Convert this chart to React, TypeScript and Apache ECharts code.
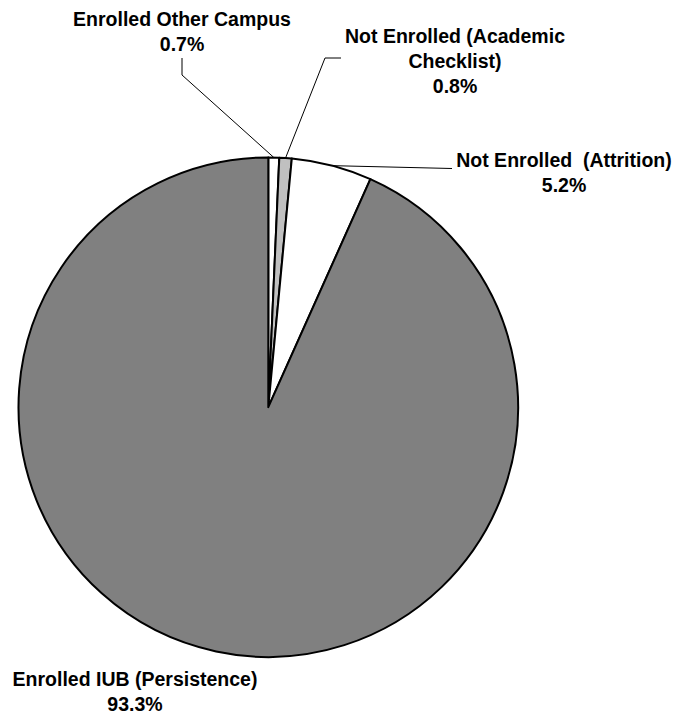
import React, { useEffect, useRef } from "react";
import * as echarts from "echarts";

// ---- data ----
const categories = [
  "Enrolled Other Campus",
  "Not Enrolled (Academic\nChecklist)",
  "Not Enrolled  (Attrition)",
  "Enrolled IUB (Persistence)",
];
const percents = [0.7, 0.8, 5.2, 93.3];
const sliceColors = ["#ffffff", "#c0c0c0", "#ffffff", "#808080"];

// ---- layout (label centers, leader-line bends) ----
const labelCenters: [number, number][] = [
  [182, 31],
  [455, 61],
  [564, 172],
  [135, 691],
];
const leaderBends: ([number, number][] | null)[] = [
  [
    [182, 75],
    [182, 58],
  ],
  [
    [325, 58],
    [341, 58],
  ],
  [[452, 168.5]],
  null,
];

export default function App() {
  const ref = useRef<HTMLDivElement>(null);
  useEffect(() => {
    if (!ref.current) return;
    const chart = echarts.init(ref.current, null, { renderer: "svg" });
    const font = "'Liberation Sans', Arial, Helvetica, sans-serif";
    chart.setOption({
      animation: false,
      backgroundColor: "#ffffff",
      series: [
        {
          type: "pie",
          center: [268.3, 407.2],
          radius: 249.8,
          startAngle: 90,
          clockwise: true,
          avoidLabelOverlap: false,
          emphasis: { disabled: true },
          silent: true,
          itemStyle: { borderColor: "#000000", borderWidth: 2 },
          label: {
            show: true,
            position: "outside",
            color: "#000000",
            fontFamily: font,
            fontWeight: "bold",
            fontSize: 19.5,
            lineHeight: 25,
            align: "center",
            formatter: (p: any) => `${p.name}\n${percents[p.dataIndex].toFixed(1)}%`,
          },
          labelLine: {
            show: true,
            lineStyle: { color: "#000000", width: 1 },
          },
          labelLayout: (params: any) => {
            const i = params.dataIndex;
            const res: any = {
              x: labelCenters[i][0],
              y: labelCenters[i][1],
              align: "center",
              verticalAlign: "middle",
            };
            const bends = leaderBends[i];
            if (bends && params.labelLinePoints) {
              res.labelLinePoints = [params.labelLinePoints[0], ...bends];
            }
            return res;
          },
          data: categories.map((name, i) => ({
            name,
            value: percents[i],
            itemStyle: { color: sliceColors[i] },
            labelLine: { show: leaderBends[i] != null },
          })),
        },
      ],
    });
    return () => chart.dispose();
  }, []);
  return (
    <div
      ref={ref}
      style={{ position: "fixed", left: 0, top: 0, width: 676, height: 717 }}
    />
  );
}
